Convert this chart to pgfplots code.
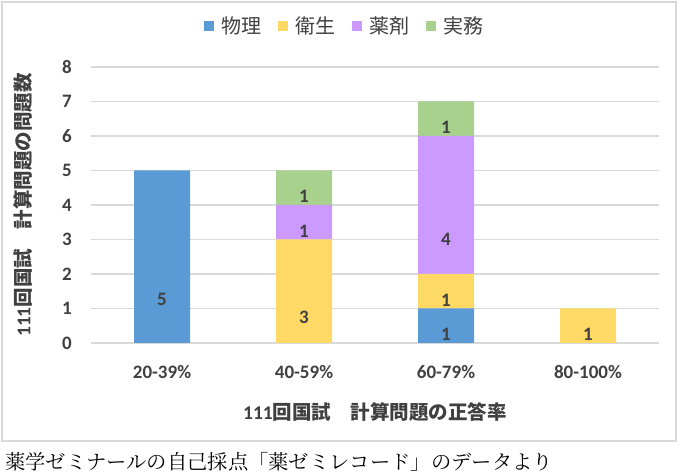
\documentclass[border=0pt]{standalone}
\usepackage{fontspec}
\setmainfont{Carlito}
\newfontfamily\jp{Noto Sans CJK JP}
\newfontfamily\jpmin{Noto Serif CJK JP}
\usepackage{pgfplots}
\pgfplotsset{compat=1.18}

\definecolor{butsuri}{HTML}{5B9BD5}
\definecolor{eisei}{HTML}{FFD966}
\definecolor{yakuzai}{HTML}{CC99FF}
\definecolor{jitsumu}{HTML}{A9D18E}
\definecolor{gridgray}{HTML}{D9D9D9}
\definecolor{txt}{HTML}{404040}

\begin{document}
\begin{tikzpicture}[x=1bp,y=1bp]
\path[use as bounding box] (0,0) rectangle (680,474);
\draw[gridgray, line width=1.3bp] (2,33) rectangle (676,472);
\node[anchor=west, inner sep=0pt, text=black] at (5,12)
  {\jpmin\fontsize{20.3bp}{22bp}\selectfont 薬学ゼミナールの自己採点「薬ゼミレコード」のデータより};

\begin{axis}[
  at={(91bp,131bp)}, anchor=south west, scale only axis,
  width=568bp, height=276bp,
  ybar stacked, bar width=56bp,
  ymin=0, ymax=8, xmin=-0.5, xmax=3.5,
  xtick={0,1,2,3},
  xticklabels={20-39\%,40-59\%,60-79\%,80-100\%},
  ytick={0,1,...,8},
  ymajorgrids, grid style={draw=gridgray, line width=1.1bp},
  axis line style={draw=none}, tick style={draw=none},
  ticklabel style={font=\fontsize{19bp}{22bp}\selectfont\bfseries, text=txt},
  /pgf/number format/assume math mode=true,
  xticklabel style={anchor=center, yshift=-29bp},
  yticklabel style={anchor=east, inner sep=0pt, xshift=-19bp},
  xlabel={\bfseries 111{\jp 回国試　計算問題の正答率}},
  ylabel={\bfseries 111{\jp 回国試　計算問題の問題数}},
  label style={font=\fontsize{19.5bp}{22bp}\selectfont, text=txt},
  xlabel style={at={(axis description cs:0.5,-0.25)}, anchor=center},
  ylabel style={at={(axis description cs:-0.12,0.5)}, anchor=center, rotate=0},
  legend columns=4,
  legend style={draw=none, fill=none, at={(0.4296,1.1486)}, anchor=center,
    font=\jp\fontsize{20bp}{22bp}\selectfont, text=txt,
    nodes={inner sep=0pt}},
  % each legend key: 17bp lead-in, a 10bp square, then a 7bp gap
  legend image code/.code={\fill[#1] (17bp,-5bp) rectangle (27bp,5bp);
    \path (0bp,0bp) (34bp,0bp);},
  visualization depends on={rawy \as \rawy},
  nodes near coords={\pgfmathtruncatemacro\v{\rawy}\ifnum\v>0 \v\fi},
  every node near coord/.append style={anchor=center, text=txt,
    font=\fontsize{19bp}{22bp}\selectfont\bfseries,
    yshift={-0.25*\rawy*34.5bp}},
]
\addplot[fill=butsuri, draw=none] coordinates {(0,5) (1,0) (2,1) (3,0)};
\addplot[fill=eisei, draw=none] coordinates {(0,0) (1,3) (2,1) (3,1)};
\addplot[fill=yakuzai, draw=none] coordinates {(0,0) (1,1) (2,4) (3,0)};
\addplot[fill=jitsumu, draw=none] coordinates {(0,0) (1,1) (2,1) (3,0)};
\legend{物理,衛生,薬剤,実務}
\end{axis}
\end{tikzpicture}
\end{document}
